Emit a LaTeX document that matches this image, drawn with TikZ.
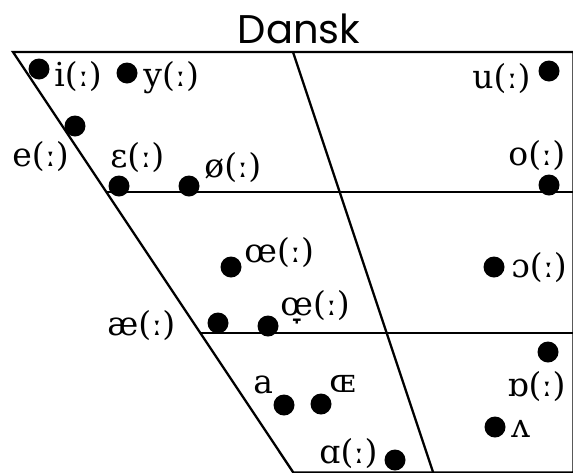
\documentclass[tikz,border=0pt]{standalone}
\usepackage{fontspec}
\setmainfont{DejaVu Serif}
\newfontfamily\titlefont{Poppins}
\usetikzlibrary{positioning}

\begin{document}
\begin{tikzpicture}[
    x=0.5pt, y=-0.5pt,
    chart/.style={line width=1.15pt},
    vowel/.style={circle, fill=black, inner sep=0pt, minimum size=10.5pt},
    lab/.style={anchor=base west, inner sep=0pt, font=\fontsize{16.5pt}{19pt}\selectfont},
]
\useasboundingbox (0,0) rectangle (573,472);
% Title
\node[anchor=base, inner sep=0pt, font=\titlefont\fontsize{20pt}{24pt}\selectfont] (title) at (299,43) {Dansk};
% Chart frame
\coordinate (tl) at (13,52);
\coordinate (tm) at (293,52);
\coordinate (tr) at (573.5,52);
\coordinate (bl) at (293.3,472.5);
\coordinate (bm) at (433.2,472.5);
\coordinate (br) at (573.5,472.5);
\coordinate (h1l) at (106.3,192);
\coordinate (h1r) at (573.5,192);
\coordinate (h2l) at (200.3,333);
\coordinate (h2r) at (573.5,333);
\draw[chart] (tl) -- (tr) -- (br) -- (bl) -- cycle;
\draw[chart] (tm) -- (bm);
\draw[chart] (h1l) -- (h1r);
\draw[chart] (h2l) -- (h2r);
% Close vowels
\node[vowel] (vi) at (39,69) {};
\node[lab] (li) at (54,86) {i(ː)};
\node[vowel] (vy) at (127,73) {};
\node[lab] (ly) at (143,86) {y(ː)};
\node[vowel] (vu) at (549,71) {};
\node[lab] (lu) at (472,88) {u(ː)};
% Close-mid vowels
\node[vowel] (ve) at (75,126) {};
\node[lab] (le) at (12,166) {e(ː)};
\node[vowel] (veps) at (119,186) {};
\node[lab] (leps) at (110,167) {ɛ(ː)};
\node[vowel] (vslash) at (189,186) {};
\node[lab] (lslash) at (204,177) {ø(ː)};
\node[vowel] (vo) at (549,185) {};
\node[lab] (lo) at (508,165) {o(ː)};
% Open-mid vowels
\node[vowel] (voe) at (231,267) {};
\node[lab] (loe) at (244,262) {œ(ː)};
\node[vowel] (vopeno) at (494,267) {};
\node[lab] (lopeno) at (511,277) {ɔ(ː)};
\node[vowel] (vae) at (218,323) {};
\node[lab] (lae) at (107,335) {æ(ː)};
\node[vowel] (voelow) at (268,326) {};
\node[lab] (loelow) at (280,315) {œ̞(ː)};
% Open vowels
\node[vowel] (vrounda) at (548,352) {};
\node[lab] (lrounda) at (507,396) {ɒ(ː)};
\node[vowel] (va) at (284,405) {};
\node[lab] (la) at (253,393) {a};
\node[vowel] (vOE) at (321,404) {};
\node[lab] (lOE) at (329,392) {ɶ};
\node[vowel] (vwedge) at (495,427) {};
\node[lab] (lwedge) at (511,437) {ʌ};
\node[vowel] (valpha) at (395,460) {};
\node[lab] (lalpha) at (319,463) {ɑ(ː)};
\end{tikzpicture}
\end{document}
